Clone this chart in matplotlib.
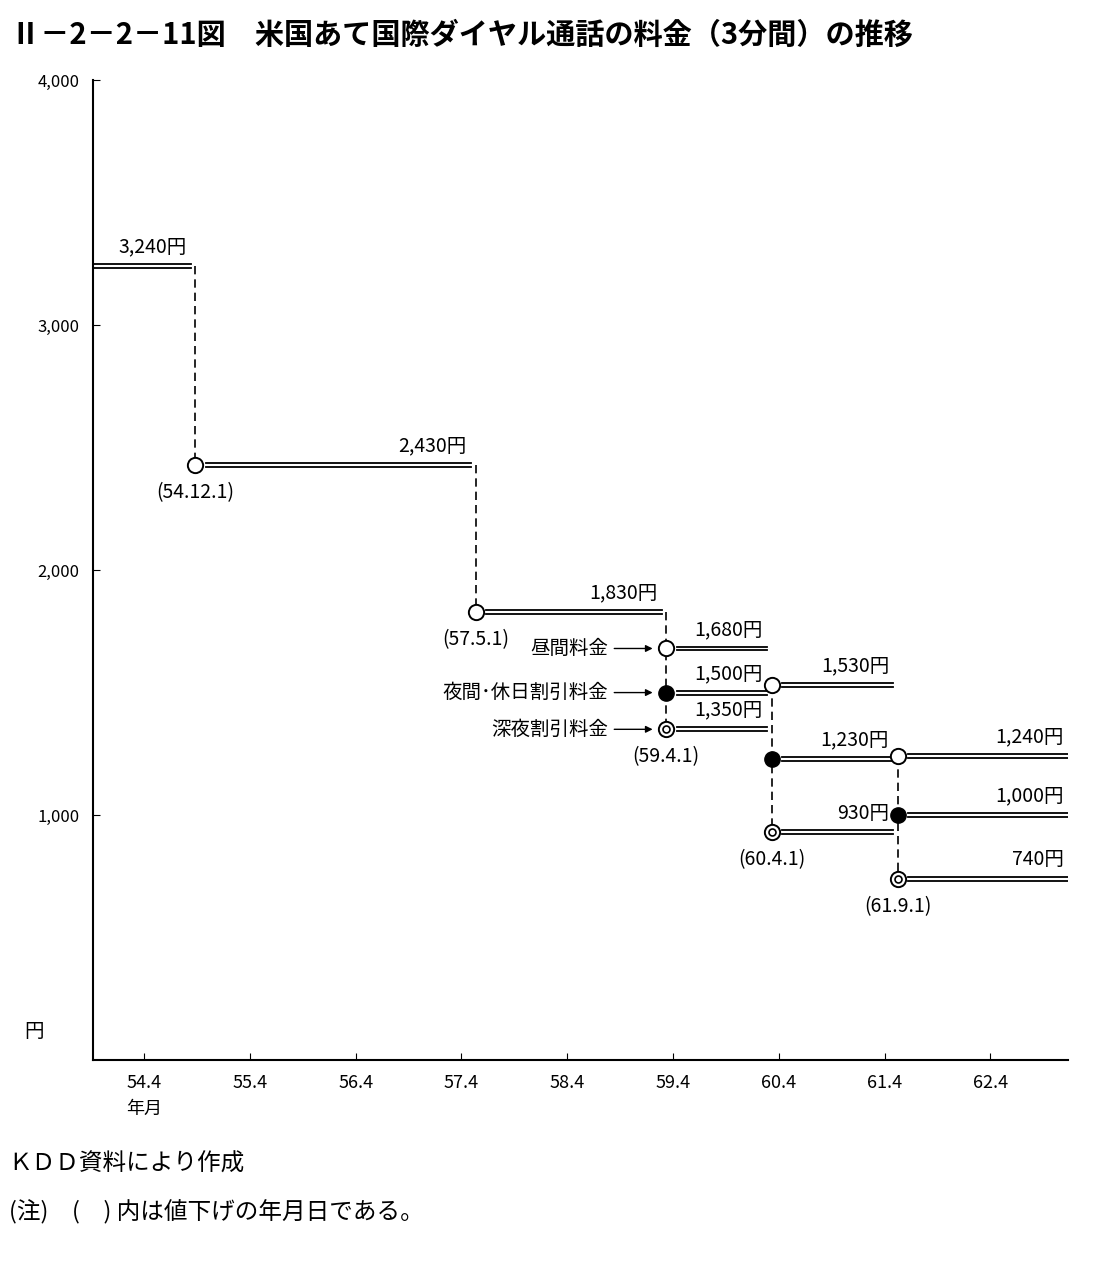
import matplotlib
matplotlib.use("Agg")
import matplotlib.pyplot as plt

plt.rcParams['font.family'] = ['Noto Sans CJK JP', 'DejaVu Sans']

# months since 1979(54).4, as placed in the picture
change_x = [5.8, 37.6, 59.2, 71.2, 85.5]
change_labels = ["(54.12.1)", "(57.5.1)", "(59.4.1)", "(60.4.1)", "(61.9.1)"]
x_left, x_right = -5.8, 104.8
day_rates = [3240, 2430, 1830, 1680, 1530, 1240]
night_rates = [1500, 1230, 1000]
late_rates = [1350, 930, 740]
tick_pos = [0, 12, 24, 36, 48, 60, 72, 84, 96]
tick_labels = ["54.4", "55.4", "56.4", "57.4", "58.4", "59.4", "60.4", "61.4", "62.4"]
yticks = [1000, 2000, 3000, 4000]
ytick_labels = ["1,000", "2,000", "3,000", "4,000"]

fig = plt.figure(figsize=(10.93, 12.61), dpi=100)
ax = fig.add_axes([0.0851, 0.1594, 0.892, 0.777])
ax.set_xlim(x_left, x_right)
ax.set_ylim(0, 4000)
for s in ['top', 'right']:
    ax.spines[s].set_visible(False)
ax.spines['left'].set_linewidth(1.5)
ax.spines['bottom'].set_linewidth(1.5)
ax.set_xticks(tick_pos)
ax.set_xticklabels(tick_labels, fontsize=13)
ax.set_yticks(yticks)
ax.set_yticklabels(ytick_labels, fontsize=12)
ax.tick_params(direction='in', length=5, pad=10)

def dbl(x0, x1, y):
    ax.plot([x0, x1], [y + 8, y + 8], color='black', lw=1.3)
    ax.plot([x0, x1], [y - 8, y - 8], color='black', lw=1.3)
    ax.text(x1 - 0.5, y + 35, f"{y:,}円", ha='right', va='bottom', fontsize=14)

def circ(x, y, kind):
    if kind == 'open':
        ax.plot(x, y, 'o', ms=11, mfc='white', mec='black', mew=1.4, zorder=5)
    elif kind == 'filled':
        ax.plot(x, y, 'o', ms=11, mfc='black', mec='black', zorder=5)
    else:
        ax.plot(x, y, 'o', ms=11, mfc='white', mec='black', mew=1.4, zorder=5)
        ax.plot(x, y, 'o', ms=5, mfc='white', mec='black', mew=1.2, zorder=6)

def dash(x, y0, y1):
    ax.plot([x, x], [y0, y1], color='black', lw=1.2, ls=(0, (5, 3)))

g = 1.2
c = change_x
dbl(x_left, c[0] - 0.5, day_rates[0])
dash(c[0], day_rates[0], day_rates[1])
circ(c[0], day_rates[1], 'open')
dbl(c[0] + g, c[1] - 0.5, day_rates[1])
dash(c[1], day_rates[1], day_rates[2])
circ(c[1], day_rates[2], 'open')
dbl(c[1] + g, c[2] - 0.5, day_rates[2])
dash(c[2], day_rates[2], late_rates[0])
circ(c[2], day_rates[3], 'open')
circ(c[2], night_rates[0], 'filled')
circ(c[2], late_rates[0], 'dbl')
for y in (day_rates[3], night_rates[0], late_rates[0]):
    dbl(c[2] + g, c[3] - 0.5, y)
dash(c[3], day_rates[4], late_rates[1])
circ(c[3], day_rates[4], 'open')
circ(c[3], night_rates[1], 'filled')
circ(c[3], late_rates[1], 'dbl')
for y in (day_rates[4], night_rates[1], late_rates[1]):
    dbl(c[3] + g, c[4] - 0.5, y)
dash(c[4], day_rates[5], late_rates[2])
circ(c[4], day_rates[5], 'open')
circ(c[4], night_rates[2], 'filled')
circ(c[4], late_rates[2], 'dbl')
for y in (day_rates[5], night_rates[2], late_rates[2]):
    dbl(c[4] + g, x_right, y)

date_y = [2430, 1830, 1350, 930, 740]
for x, y, lab in zip(c, date_y, change_labels):
    ax.text(x, y - 70, lab, ha='center', va='top', fontsize=14)

for lab, y in [("昼間料金", 1680), ("夜間･休日割引料金", 1500), ("深夜割引料金", 1350)]:
    ax.annotate(lab, xy=(c[2] - 1.2, y), xytext=(c[2] - 6.5, y),
                ha='right', va='center', fontsize=14,
                arrowprops=dict(arrowstyle='-|>', color='black', lw=1, mutation_scale=10))

fig.text(0.01, 0.972, "Ⅱ－2－2－11図　米国あて国際ダイヤル通話の料金（3分間）の推移",
         fontsize=21, fontweight='bold', ha='left', va='center')
fig.text(0.022, 0.178, "円", fontsize=14)
fig.text(0.132, 0.121, "年月", fontsize=13, ha='center', va='center')
fig.text(0.008, 0.072, "ＫＤＤ資料により作成", fontsize=17)
fig.text(0.008, 0.033, "(注)　(　) 内は値下げの年月日である。", fontsize=17)

fig.savefig("out.png", dpi=100)
